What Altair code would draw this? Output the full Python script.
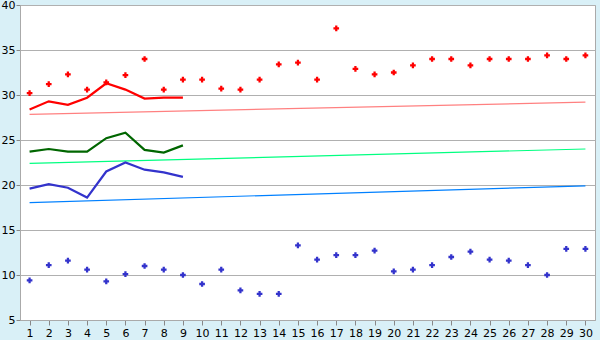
import altair as alt
import pandas as pd

days = list(range(1, 31))
max_pts = [30.2, 31.2, 32.3, 30.6, 31.4, 32.2, 34.0, 30.6, 31.7, 31.7,
           30.7, 30.6, 31.7, 33.4, 33.6, 31.7, 37.4, 32.9, 32.3, 32.5,
           33.3, 34.0, 34.0, 33.3, 34.0, 34.0, 34.0, 34.4, 34.0, 34.4]
min_pts = [9.4, 11.1, 11.6, 10.6, 9.3, 10.1, 11.0, 10.6, 10.0, 9.0,
           10.6, 8.3, 7.9, 7.9, 13.3, 11.7, 12.2, 12.2, 12.7, 10.4,
           10.6, 11.1, 12.0, 12.6, 11.7, 11.6, 11.1, 10.0, 12.9, 12.9]
line_days = list(range(1, 10))
red_line = [28.4, 29.3, 28.9, 29.7, 31.3, 30.6, 29.6, 29.7, 29.7]
green_line = [23.7, 24.0, 23.7, 23.7, 25.2, 25.8, 23.9, 23.6, 24.4]
blue_line = [19.6, 20.1, 19.7, 18.6, 21.5, 22.5, 21.7, 21.4, 20.9]
trend_days = [1, 30]
trend_red = [27.85, 29.2]
trend_green = [22.4, 24.0]
trend_blue = [18.05, 19.9]

pts = pd.DataFrame({
    "day": days * 2,
    "value": max_pts + min_pts,
    "series": ["max"] * 30 + ["min"] * 30,
})
lines = pd.DataFrame({
    "day": line_days * 3,
    "value": red_line + green_line + blue_line,
    "series": ["red"] * 9 + ["green"] * 9 + ["blue"] * 9,
})
trends = pd.DataFrame({
    "day": trend_days * 3,
    "value": trend_red + trend_green + trend_blue,
    "series": ["tred"] * 2 + ["tgreen"] * 2 + ["tblue"] * 2,
})

xs = alt.Scale(domain=[0.5, 30.5], nice=False, zero=False)
ys = alt.Scale(domain=[5, 40], nice=False, zero=False)
xax = alt.Axis(values=days, title=None, labelFontSize=11, labelFont="DejaVu Sans",
               tickColor="#888", domainColor="#aaa", tickSize=5, grid=False,
               labelColor="#000", labelPadding=2, labelFlush=False)
yax = alt.Axis(values=list(range(5, 41, 5)), title=None, labelFontSize=11,
               labelFont="DejaVu Sans", tickColor="#888", domainColor="#aaa",
               tickSize=4, grid=True, gridColor="#b0b0b0", labelColor="#000",
               labelPadding=1)

base_x = alt.X("day:Q", scale=xs, axis=xax)
base_y = alt.Y("value:Q", scale=ys, axis=yax)

trend_layer = alt.Chart(trends).mark_line(strokeWidth=1.2).encode(
    x=base_x, y=base_y, detail="series:N",
    color=alt.Color("series:N", scale=alt.Scale(
        domain=["tred", "tgreen", "tblue"],
        range=["#ff8080", "#00ff80", "#0080ff"]), legend=None),
)

line_layer = alt.Chart(lines).mark_line(strokeWidth=2.2).encode(
    x=base_x, y=base_y, detail="series:N",
    color=alt.Color("series:N", scale=alt.Scale(
        domain=["red", "green", "blue"],
        range=["#ff0000", "#006600", "#3333cc"]), legend=None),
)

pt_layer = alt.Chart(pts).mark_point(shape="cross", filled=True, size=32, opacity=1).encode(
    x=base_x, y=base_y,
    color=alt.Color("series:N", scale=alt.Scale(
        domain=["max", "min"], range=["#ff0000", "#3333cc"]), legend=None),
)

chart = alt.layer(trend_layer, line_layer, pt_layer).resolve_scale(
    color="independent"
).properties(
    width=575, height=315,
    background="#d9f0f7",
    padding={"left": 20, "top": 5, "right": 5, "bottom": 20},
    autosize=alt.AutoSizeParams(type="none"),
).configure_view(fill="white", stroke="#aaa", strokeWidth=1)

chart.save("out.html", embed_options={"renderer": "svg", "actions": False})
